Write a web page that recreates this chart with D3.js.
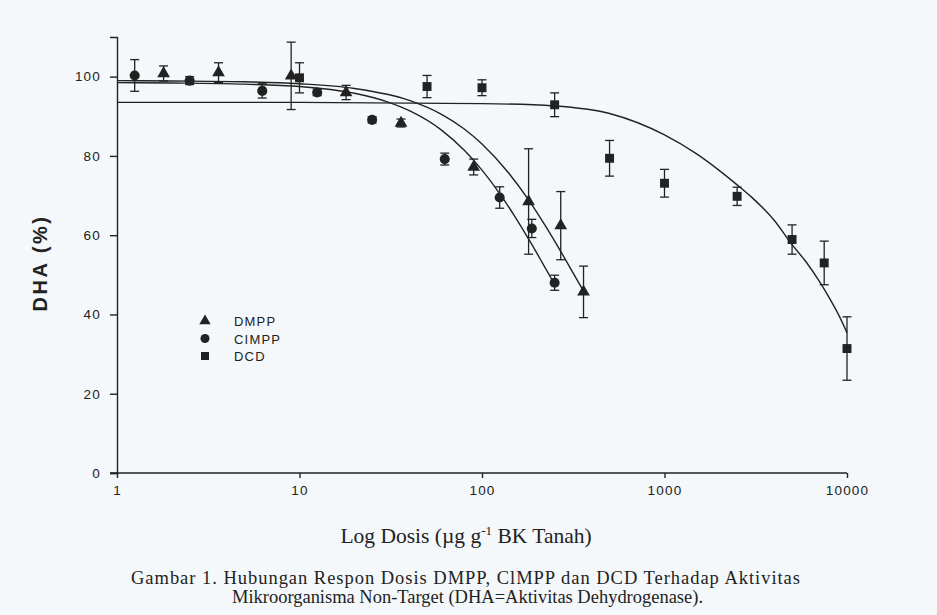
<!DOCTYPE html>
<meta charset="utf-8">
<script src="https://d3js.org/d3.v7.min.js"></script>
<style>
  body { margin: 0; background: #f4f8fa; }
  text { fill: #222; }
</style>
<svg id="chart" width="937" height="615"></svg>
<script>

  // measured points (dose, DHA %, error)
  var dmppDose = [1.8, 3.6, 9, 18, 36, 90, 180, 270, 360]
  var dmppVal  = [100.8, 101, 100.2, 96, 88.3, 77.2, 68.5, 62.4, 45.7]
  var dmppErr  = [1.9, 2.5, 8.5, 1.8, 1.0, 2.0, 13.3, 8.6, 6.5]

  var cimppDose = [1.25, 2.5, 6.25, 12.5, 25, 62.5, 125, 187.5, 250]
  var cimppVal  = [100.3, 99, 96.4, 96, 89.1, 79.2, 69.5, 61.7, 48]
  var cimppErr  = [4, 1, 1.8, 0.8, 0.8, 1.5, 2.7, 2.3, 1.9]

  var dcdDose = [10, 50, 100, 250, 500, 1000, 2500, 5000, 7500, 10000]
  var dcdVal  = [99.7, 97.5, 97.2, 92.9, 79.4, 73.1, 69.8, 58.9, 53, 31.4]
  var dcdErr  = [3.8, 2.8, 2, 3, 4.5, 3.5, 2.3, 3.7, 5.5, 8]

  // fitted curves
  var dmppFitX = [1, 2, 5, 10, 20, 40, 60, 80, 100, 140, 180, 220, 270, 320, 360]
  var dmppFitY = [99, 98.9, 98.7, 98.2, 97, 94, 90.5, 86.8, 83, 75.7, 68.9, 62.7, 55.9, 50, 45.9]
  var cimppFitX = [1, 2, 5, 10, 20, 30, 40, 60, 80, 100, 125, 150, 185, 215, 250]
  var cimppFitY = [98.5, 98.4, 98.1, 97.5, 95.8, 93.7, 91.4, 86.5, 81.4, 76.4, 70.5, 65, 58.1, 52.9, 47.6]
  var dcdFitX = [1, 10, 100, 250, 500, 1000, 1500, 2000, 2500, 3000, 4000, 5000, 6000, 7000, 8000, 9000, 10000]
  var dcdFitY = [93.5, 93.5, 93.2, 92.6, 90.7, 85.3, 80.5, 76.3, 72.7, 69.6, 63.7, 57.6, 53.1, 48.6, 44.2, 39.9, 35.4]

  var xTicks = [1, 10, 100, 1000, 10000]
  var yTicks = [0, 20, 40, 60, 80, 100]

  var svg = d3.select("#chart")
  var ink = "#222"

  var x = d3.scaleLog().domain([1, 10000]).range([117, 847])
  var y = d3.scaleLinear().domain([0, 110]).range([473, 37])

  // axes
  var xAxis = svg.append("g")
    .attr("transform", "translate(0," + y(0) + ")")
    .call(d3.axisBottom(x).tickValues(xTicks).tickFormat(d3.format("d")).tickSizeOuter(0).tickSize(5).tickPadding(7))
  xAxis.select(".domain").attr("d", "M" + (x(1) - 7) + ",0H" + x(10000))

  var yAxis = svg.append("g")
    .attr("transform", "translate(" + x(1) + ",0)")
    .call(d3.axisLeft(y).tickValues(yTicks).tickSizeOuter(0).tickSize(7).tickPadding(9))

  svg.selectAll(".domain, .tick line").attr("stroke", ink).attr("stroke-width", 1.4)
  svg.selectAll(".tick text")
    .attr("fill", ink)
    .style("font-family", "Liberation Sans, Arial, sans-serif")
    .style("font-size", "13.5px")
    .style("letter-spacing", "1.2px")

  // fitted curves
  var line = d3.line()
    .x(function(d){ return x(d[0]) })
    .y(function(d){ return y(d[1]) })
    .curve(d3.curveMonotoneX)

  var fits = [
    d3.zip(dmppFitX, dmppFitY),
    d3.zip(cimppFitX, cimppFitY),
    d3.zip(dcdFitX, dcdFitY)
  ]
  svg.append("g").selectAll("path")
    .data(fits)
    .join("path")
      .attr("d", line)
      .attr("fill", "none")
      .attr("stroke", ink)
      .attr("stroke-width", 1.4)

  var series = [
    { shape: d3.symbolTriangle, size: 70, pts: d3.zip(dmppDose, dmppVal, dmppErr) },
    { shape: d3.symbolCircle, size: 80, pts: d3.zip(cimppDose, cimppVal, cimppErr) },
    { shape: d3.symbolSquare, size: 80, pts: d3.zip(dcdDose, dcdVal, dcdErr) }
  ]

  series.forEach(function(s){
    var g = svg.append("g")
    var eb = g.selectAll(".eb").data(s.pts).join("g")
      .attr("transform", function(d){ return "translate(" + x(d[0]) + ",0)" })
    eb.append("line")
      .attr("y1", function(d){ return y(d[1] + d[2]) })
      .attr("y2", function(d){ return y(d[1] - d[2]) })
      .attr("stroke", ink).attr("stroke-width", 1.3)
    eb.append("line")
      .attr("x1", -4.5).attr("x2", 4.5)
      .attr("y1", function(d){ return y(d[1] + d[2]) })
      .attr("y2", function(d){ return y(d[1] + d[2]) })
      .attr("stroke", ink).attr("stroke-width", 1.3)
    eb.append("line")
      .attr("x1", -4.5).attr("x2", 4.5)
      .attr("y1", function(d){ return y(d[1] - d[2]) })
      .attr("y2", function(d){ return y(d[1] - d[2]) })
      .attr("stroke", ink).attr("stroke-width", 1.3)
    g.selectAll(".mk").data(s.pts).join("path")
      .attr("d", d3.symbol().type(s.shape).size(s.size))
      .attr("transform", function(d){ return "translate(" + x(d[0]) + "," + y(d[1]) + ")" })
      .attr("fill", ink)
  })

  // legend
  var legendNames = ["DMPP", "CIMPP", "DCD"]
  var lg = svg.append("g").attr("transform", "translate(205,321)")
  legendNames.forEach(function(name, i){
    lg.append("path")
      .attr("d", d3.symbol().type(series[i].shape).size(series[i].size * 0.8))
      .attr("transform", "translate(0," + (i * 17.5) + ")")
      .attr("fill", ink)
    lg.append("text")
      .attr("x", 29).attr("y", i * 17.5 + 5)
      .style("font-family", "Liberation Sans, Arial, sans-serif")
      .style("font-size", "13px")
      .style("letter-spacing", "1.2px")
      .text(name)
  })

  // axis titles
  svg.append("text")
    .attr("transform", "translate(47,263) rotate(-90)")
    .attr("text-anchor", "middle")
    .style("font-family", "Liberation Sans, Arial, sans-serif")
    .style("font-size", "20px")
    .style("font-weight", "bold")
    .style("letter-spacing", "2.5px")
    .text("DHA (%)")

  var xt = svg.append("text")
    .attr("x", 466).attr("y", 543)
    .attr("text-anchor", "middle")
    .style("font-family", "Liberation Serif, Times New Roman, serif")
    .style("font-size", "21.5px")
  xt.append("tspan").text("Log Dosis (\u00b5g g")
  xt.append("tspan").attr("dy", -8).style("font-size", "13px").text("-1")
  xt.append("tspan").attr("dy", 8).text(" BK Tanah)")

  var caption = [
    "Gambar 1. Hubungan Respon Dosis DMPP, ClMPP dan DCD Terhadap Aktivitas",
    "Mikroorganisma Non-Target (DHA=Aktivitas Dehydrogenase)."
  ]
  var capWidth = [669, 471]
  svg.selectAll(".cap").data(caption).join("text")
    .attr("x", function(d, i){ return i == 0 ? 131 : 232 })
    .attr("y", function(d, i){ return 584 + i * 19 })
    .attr("textLength", function(d, i){ return capWidth[i] })
    .attr("lengthAdjust", "spacing")
    .style("font-family", "Liberation Serif, Times New Roman, serif")
    .style("font-size", "18.5px")
    .text(function(d){ return d })

</script>
